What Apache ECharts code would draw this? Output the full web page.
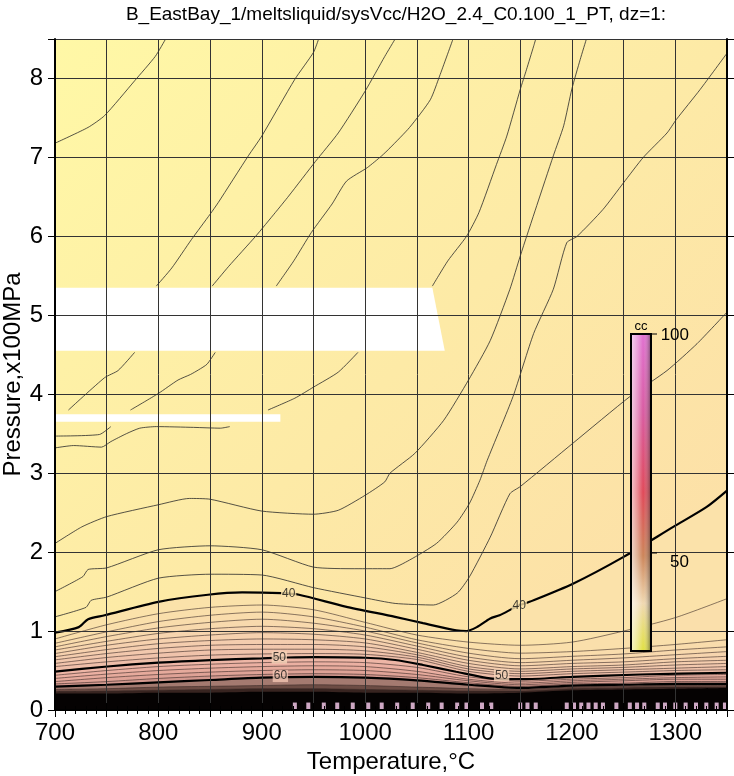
<!DOCTYPE html>
<html>
<head>
<meta charset="utf-8">
<script src="https://cdn.jsdelivr.net/npm/echarts@6/dist/echarts.min.js"></script>
<style>
html, body { margin: 0; padding: 0; background: #fff; }
#chart { width: 734px; height: 776px; }
</style>
</head>
<body>
<div id="chart"></div>
<script>
// contour pieces above the no-data bands, [T degC, P x100MPa]
const contourA = [[700, 7.18], [732, 7.38], [748, 7.53], [777, 7.97], [797, 8.28], [807, 8.5]]
const contourB = [[798, 5.37], [813, 5.60], [832, 5.96], [850, 6.28], [858, 6.43], [887, 7.02], [900, 7.27], [932, 7.99], [950, 8.33], [955, 8.5]]
const contourD = [[852, 5.37], [868, 5.62], [894, 6.00], [913, 6.30], [926, 6.51], [952, 6.95], [974, 7.31], [1000, 7.84], [1019, 8.28], [1029, 8.5]]
const contourC = [[914, 5.37], [931, 5.69], [948, 6.05], [968, 6.41], [982, 6.70], [1002, 6.87], [1016, 7.02], [1024, 7.12], [1043, 7.38], [1063, 7.73], [1072, 8.03], [1085, 8.5]]
const contourE = [[1065, 5.37], [1080, 5.69], [1098, 6.00], [1110, 6.30], [1127, 6.91], [1137, 7.27], [1150, 7.86], [1156, 8.11], [1163, 8.41], [1165, 8.5]]
// pieces between the two bands and under the thin band
const seg1 = [[713, 3.80], [748, 4.21], [761, 4.30], [777, 4.53]]
const seg2 = [[773, 3.80], [800, 4.01], [819, 4.18], [831, 4.25], [839, 4.31], [847, 4.38], [855, 4.53]]
const seg3 = [[906, 3.80], [932, 3.95], [950, 4.09], [974, 4.28], [993, 4.53]]
const seg4 = [[700, 3.47], [743, 3.49], [754, 3.59]]
const seg5 = [[700, 3.32], [718, 3.35], [745, 3.33], [754, 3.40], [769, 3.50], [782, 3.57], [798, 3.59], [834, 3.58], [860, 3.57], [869, 3.59]]

// full contours traced point by point
const level37 = [[700, 2.11], [726, 2.32], [750, 2.45], [800, 2.60], [830, 2.68], [850, 2.67], [900, 2.52], [950, 2.48], [974, 2.53], [1000, 2.72], [1019, 2.89], [1024, 3.0], [1048, 3.25], [1076, 3.67], [1100, 4.18], [1121, 4.68], [1140, 5.33], [1150, 5.75], [1166, 6.39], [1182, 7.02], [1192, 7.40], [1200, 7.87], [1208, 8.24], [1214, 8.5]]
const level38 = [[700, 1.50], [727, 1.69], [732, 1.78], [750, 1.80], [800, 2.03], [850, 2.08], [900, 2.03], [950, 1.81], [990, 1.79], [1024, 1.79], [1043, 1.90], [1069, 2.11], [1089, 2.38], [1101, 2.62], [1111, 2.91], [1118, 3.16], [1143, 3.97], [1163, 4.77], [1182, 5.33], [1195, 5.92], [1205, 6.0], [1230, 6.34], [1250, 6.68], [1269, 7.0], [1292, 7.31], [1301, 7.48], [1324, 7.86], [1350, 8.32]]
const level39 = [[700, 1.18], [730, 1.30], [735, 1.39], [750, 1.43], [800, 1.67], [850, 1.72], [900, 1.71], [950, 1.55], [1000, 1.42], [1029, 1.35], [1066, 1.33], [1089, 1.48], [1101, 1.69], [1121, 2.19], [1140, 2.74], [1150, 2.83], [1201, 3.38], [1256, 3.97], [1292, 4.30], [1321, 4.64], [1350, 5.04]]
const level40 = [[700, 0.98], [723, 1.05], [732, 1.15], [748, 1.20], [800, 1.37], [848, 1.46], [881, 1.49], [919, 1.48], [936, 1.46], [981, 1.31], [1029, 1.18], [1056, 1.10], [1088, 1.01], [1098, 1.0], [1108, 1.05], [1121, 1.16], [1130, 1.20], [1148, 1.32], [1159, 1.37], [1201, 1.60], [1250, 1.94], [1298, 2.32], [1330, 2.57], [1350, 2.78]]
const level50 = [[700, 0.485], [748, 0.548], [800, 0.60], [850, 0.633], [900, 0.654], [925, 0.665], [951, 0.67], [1000, 0.662], [1029, 0.633], [1056, 0.57], [1088, 0.485], [1121, 0.40], [1153, 0.39], [1201, 0.42], [1266, 0.45], [1350, 0.472]]

// dense lower contours, P read at these temperatures
const tempCols = [700, 750, 800, 850, 900, 950, 1000, 1050, 1100, 1150, 1200, 1250, 1300, 1350]
const level41 = [0.90, 1.08, 1.22, 1.30, 1.33, 1.27, 1.11, 0.95, 0.86, 0.82, 0.86, 1.00, 1.17, 1.41]
const level42 = [0.845, 0.99, 1.12, 1.20, 1.24, 1.18, 1.05, 0.89, 0.78, 0.72, 0.74, 0.78, 0.83, 0.89]
const level43 = [0.80, 0.93, 1.04, 1.11, 1.15, 1.10, 1.00, 0.85, 0.72, 0.65, 0.68, 0.71, 0.76, 0.80]
const level44 = [0.76, 0.87, 0.97, 1.03, 1.06, 1.03, 0.95, 0.81, 0.67, 0.60, 0.63, 0.66, 0.70, 0.74]
const level45 = [0.715, 0.82, 0.90, 0.95, 0.98, 0.96, 0.90, 0.77, 0.63, 0.56, 0.59, 0.61, 0.65, 0.68]
const level46 = [0.675, 0.765, 0.84, 0.88, 0.90, 0.89, 0.85, 0.73, 0.59, 0.52, 0.55, 0.57, 0.61, 0.63]
const level47 = [0.635, 0.715, 0.78, 0.82, 0.83, 0.83, 0.80, 0.70, 0.55, 0.49, 0.52, 0.54, 0.57, 0.59]
const level48 = [0.59, 0.665, 0.72, 0.76, 0.77, 0.77, 0.75, 0.67, 0.52, 0.46, 0.49, 0.51, 0.53, 0.55]
const level49 = [0.55, 0.61, 0.66, 0.695, 0.71, 0.715, 0.705, 0.64, 0.49, 0.43, 0.46, 0.48, 0.50, 0.51]
const level52 = [0.44, 0.50, 0.55, 0.58, 0.60, 0.61, 0.60, 0.54, 0.42, 0.365, 0.39, 0.41, 0.44, 0.45]
const level54 = [0.40, 0.455, 0.50, 0.53, 0.55, 0.56, 0.55, 0.49, 0.39, 0.34, 0.37, 0.39, 0.41, 0.42]
const level56 = [0.36, 0.41, 0.45, 0.48, 0.50, 0.51, 0.50, 0.45, 0.37, 0.32, 0.35, 0.37, 0.39, 0.39]
const level58 = [0.33, 0.36, 0.40, 0.43, 0.45, 0.46, 0.45, 0.41, 0.345, 0.30, 0.33, 0.34, 0.36, 0.36]
const level60 = [0.295, 0.32, 0.35, 0.38, 0.41, 0.42, 0.41, 0.375, 0.32, 0.28, 0.31, 0.32, 0.33, 0.33]
const level64 = [0.26, 0.27, 0.29, 0.30, 0.31, 0.32, 0.31, 0.29, 0.27, 0.26, 0.29, 0.30, 0.31, 0.31]
const level68 = [0.235, 0.24, 0.25, 0.26, 0.27, 0.27, 0.26, 0.25, 0.24, 0.24, 0.27, 0.28, 0.29, 0.29]
const levelDark = [0.21, 0.21, 0.22, 0.22, 0.23, 0.23, 0.22, 0.22, 0.21, 0.22, 0.25, 0.26, 0.27, 0.28]

// white no-data bands
const gapBands = [
  [[700, 5.35], [1065, 5.35], [1077, 4.55], [700, 4.55]],
  [[700, 3.745], [918, 3.745], [918, 3.65], [700, 3.65]]
]

const contourLabels = [[926, 1.47, '40'], [1149, 1.32, '40'], [917, 0.665, '50'], [918, 0.43, '60'], [1132, 0.44, '50']]
const labelBg = { '40': '#fbe4aa', '50': '#f7d6ba', '60': '#f2c4b2' }
// crowded high-level labels squeezed into the black band near P = 0.05
const squeezedLabelT = [932, 945, 960, 973, 988, 1003, 1016, 1031, 1046, 1061, 1074, 1089, 1098, 1113, 1122, 1150, 1157, 1165, 1195, 1202, 1209, 1216, 1223, 1230, 1243, 1256, 1263, 1270, 1283, 1290, 1300, 1310, 1320, 1330, 1340, 1348]

const font = 'Liberation Sans, Arial, Helvetica, sans-serif'
const onCols = arr => arr.map((p, i) => [tempCols[i], p])

const chart = echarts.init(document.getElementById('chart'))

// filled bands, painted from the highest contour down
const fills = [
  { data: level40, color: '#fbe2aa' },
  { data: onCols(level41), color: '#fadfab' },
  { data: onCols(level42), color: '#f9dcac' },
  { data: onCols(level43), color: '#f8d9ad' },
  { data: onCols(level44), color: '#f7d5ae' },
  { data: onCols(level45), color: '#f6d1ae' },
  { data: onCols(level46), color: '#f4cdae' },
  { data: onCols(level47), color: '#f2c8ad' },
  { data: onCols(level48), color: '#f0c3ab' },
  { data: onCols(level49), color: '#eebea9' },
  { data: level50, color: '#eeb6a6' },
  { data: onCols(level52), color: '#ebb0a2' },
  { data: onCols(level54), color: '#e6aa9c' },
  { data: onCols(level56), color: '#dea296' },
  { data: onCols(level58), color: '#d2988e' },
  { data: onCols(level60), color: '#a47a70' },
  { data: onCols(level64), color: '#6c4c44' },
  { data: onCols(level68), color: '#382420' },
  { data: onCols(levelDark), color: '#050202' }
]

const thinLines = [contourA, contourB, contourC, contourD, contourE, seg1, seg2, seg3, seg4, seg5, level37, level38, level39]
const denseLines = [level41, level42, level43, level44, level45, level46, level47, level48, level49, level52, level54, level56, level58, level64, level68].map(onCols)
const boldLines = [level40, level50, onCols(level60)]

const series = []

fills.forEach(f => {
  series.push({
    type: 'line',
    data: f.data,
    showSymbol: false,
    silent: true,
    smooth: 0.25,
    lineStyle: { width: 0 },
    areaStyle: { color: f.color, opacity: 1 },
    z: 1
  })
})

series.push({
  type: 'custom',
  data: gapBands.map(b => b[0]),
  silent: true,
  z: 2,
  renderItem: (params, api) => {
    const pts = gapBands[params.dataIndex].map(p => api.coord(p))
    return { type: 'polygon', shape: { points: pts }, style: { fill: '#ffffff' } }
  }
})

thinLines.forEach(d => {
  series.push({
    type: 'line', data: d, showSymbol: false, silent: true, smooth: 0.2,
    lineStyle: { color: '#2a2a2a', width: 0.8 }, z: 3
  })
})

denseLines.forEach(d => {
  series.push({
    type: 'line', data: d, showSymbol: false, silent: true, smooth: 0.25,
    lineStyle: { color: '#3a2a26', width: 0.6 }, z: 3
  })
})

boldLines.forEach(d => {
  series.push({
    type: 'line', data: d, showSymbol: false, silent: true, smooth: 0.25,
    lineStyle: { color: '#000', width: 2.2 }, z: 3
  })
})

series.push({
  type: 'scatter',
  data: contourLabels.map(d => ({ value: d, label: { backgroundColor: labelBg[d[2]] } })),
  symbolSize: 0,
  silent: true,
  z: 4,
  label: {
    show: true,
    position: 'inside',
    formatter: p => p.value[2],
    fontSize: 12,
    fontFamily: font,
    color: '#111',
    padding: [0, 1]
  }
})

series.push({
  type: 'scatter',
  data: squeezedLabelT.map(t => [t, 0.05]),
  symbol: 'rect',
  symbolSize: [4, 7],
  silent: true,
  z: 4,
  itemStyle: { color: '#f2c6e6', opacity: 0.85 }
})

const axisLine = { show: true, lineStyle: { color: '#000', width: 2 } }

const option = {
  animation: false,
  backgroundColor: '#fff',
  title: {
    text: 'B_EastBay_1/meltsliquid/sysVcc/H2O_2.4_C0.100_1_PT, dz=1:',
    left: 391,
    top: 0,
    textAlign: 'center',
    textStyle: { fontSize: 19, fontWeight: 'normal', color: '#000', fontFamily: font }
  },
  grid: {
    left: 55, right: 7, top: 39, bottom: 66,
    outerBoundsMode: 'none',
    containLabel: false,
    show: true,
    borderWidth: 0,
    backgroundColor: {
      type: 'linear', x: 0, y: 0, x2: 1, y2: 1,
      colorStops: [
        { offset: 0, color: '#fff8a6' },
        { offset: 0.5, color: '#fdeaa6' },
        { offset: 1, color: '#fcdca8' }
      ]
    }
  },
  xAxis: [
    {
      type: 'value', min: 700, max: 1350, interval: 50, z: 10,
      name: 'Temperature,°C', nameLocation: 'middle', nameGap: 37,
      nameTextStyle: { fontSize: 24, color: '#000', fontFamily: font },
      axisLine,
      axisTick: { show: true, length: 7, lineStyle: { color: '#000' } },
      minorTick: { show: true, splitNumber: 5, length: 4, lineStyle: { color: '#000' } },
      axisLabel: { fontSize: 24, color: '#000', fontFamily: font, margin: 11, formatter: v => (v % 100 === 0 ? String(v) : '') },
      splitLine: { show: true, lineStyle: { color: '#333', width: 1 } }
    },
    {
      type: 'value', min: 700, max: 1350, interval: 50, position: 'top', z: 10,
      axisLine,
      axisTick: { show: true, length: 7, lineStyle: { color: '#000' } },
      minorTick: { show: true, splitNumber: 5, length: 4, lineStyle: { color: '#000' } },
      axisLabel: { show: false },
      splitLine: { show: false }
    }
  ],
  yAxis: [
    {
      type: 'value', min: 0, max: 8.5, interval: 1, z: 10,
      name: 'Pressure,x100MPa', nameLocation: 'middle', nameGap: 30, nameMoveOverlap: false,
      nameTextStyle: { fontSize: 24, color: '#000', fontFamily: font },
      axisLine,
      axisTick: { show: true, length: 7, lineStyle: { color: '#000' } },
      axisLabel: { fontSize: 24, color: '#000', fontFamily: font, margin: 12, formatter: v => (Number.isInteger(v) ? String(v) : '') },
      splitLine: { show: true, lineStyle: { color: '#333', width: 1 } }
    },
    {
      type: 'value', min: 0, max: 8.5, interval: 1, position: 'right', z: 10,
      axisLine,
      axisTick: { show: true, length: 7, lineStyle: { color: '#000' } },
      axisLabel: { show: false },
      splitLine: { show: false }
    }
  ],
  graphic: [
    {
      type: 'rect', z: 100,
      shape: { x: 631, y: 334, width: 20, height: 317 },
      style: {
        fill: {
          type: 'linear', x: 0, y: 0, x2: 0, y2: 1,
          colorStops: [
            { offset: 0, color: '#e070d0' },
            { offset: 0.25, color: '#d85aa0' },
            { offset: 0.5, color: '#e04858' },
            { offset: 0.7, color: '#cc8458' },
            { offset: 0.85, color: '#f0d8b0' },
            { offset: 1, color: '#e0e040' }
          ]
        }
      }
    },
    {
      type: 'rect', z: 101,
      shape: { x: 631, y: 334, width: 20, height: 317 },
      style: {
        stroke: '#000', lineWidth: 2,
        fill: {
          type: 'linear', x: 0, y: 0, x2: 1, y2: 0,
          colorStops: [
            { offset: 0, color: 'rgba(255,255,255,0.75)' },
            { offset: 0.35, color: 'rgba(255,255,255,0.35)' },
            { offset: 0.6, color: 'rgba(255,255,255,0)' },
            { offset: 1, color: 'rgba(0,0,0,0.6)' }
          ]
        }
      }
    },
    { type: 'line', z: 101, shape: { x1: 651, y1: 334, x2: 657, y2: 334 }, style: { stroke: '#000', lineWidth: 1 } },
    { type: 'line', z: 101, shape: { x1: 651, y1: 553, x2: 657, y2: 553 }, style: { stroke: '#000', lineWidth: 1 } },
    { type: 'text', z: 101, style: { text: '100', x: 689, y: 335, align: 'right', verticalAlign: 'middle', fontSize: 17, fontFamily: font, fill: '#000' } },
    { type: 'text', z: 101, style: { text: '50', x: 689, y: 562, align: 'right', verticalAlign: 'middle', fontSize: 17, fontFamily: font, fill: '#000' } },
    { type: 'text', z: 101, style: { text: 'cc', x: 641, y: 326, align: 'center', verticalAlign: 'middle', fontSize: 13, fontFamily: font, fill: '#000' } }
  ],
  series
}

chart.setOption(option)
</script>
</body>
</html>
